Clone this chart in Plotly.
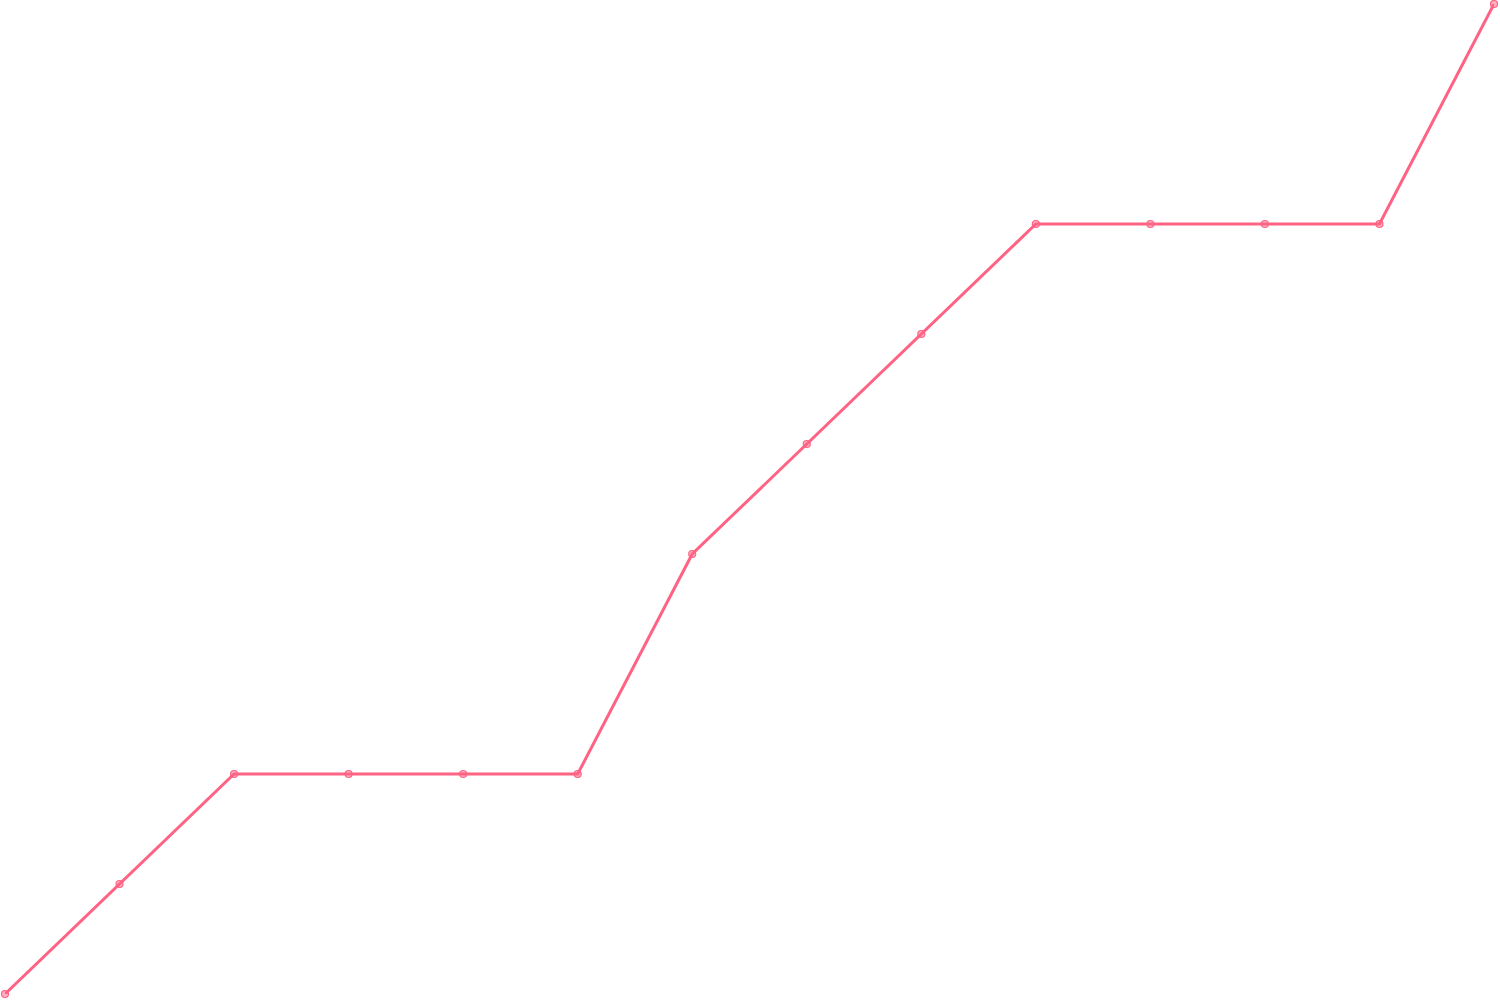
import plotly.graph_objects as go

x_index = list(range(14))
values = [0, 1, 2, 2, 2, 2, 4, 5, 6, 7, 7, 7, 7, 9]

fig = go.Figure()
fig.add_trace(go.Scatter(
    x=x_index, y=values, mode="lines+markers",
    line=dict(color="#FF6384", width=3),
    marker=dict(size=7, color="rgba(255,99,132,0.5)", line=dict(color="#FF6384", width=1.2)),
    cliponaxis=False, showlegend=False, hoverinfo="skip",
))
fig.update_layout(
    width=1500, height=1000,
    margin=dict(l=5, r=6, t=4, b=6),
    paper_bgcolor="white", plot_bgcolor="white",
    xaxis=dict(visible=False, range=[0, 13]),
    yaxis=dict(visible=False, range=[0, 9]),
)
fig.write_html(
    "out.html",
    config={"displayModeBar": False},
    post_script="document.body.style.margin='0';document.body.style.overflow='hidden';",
)
